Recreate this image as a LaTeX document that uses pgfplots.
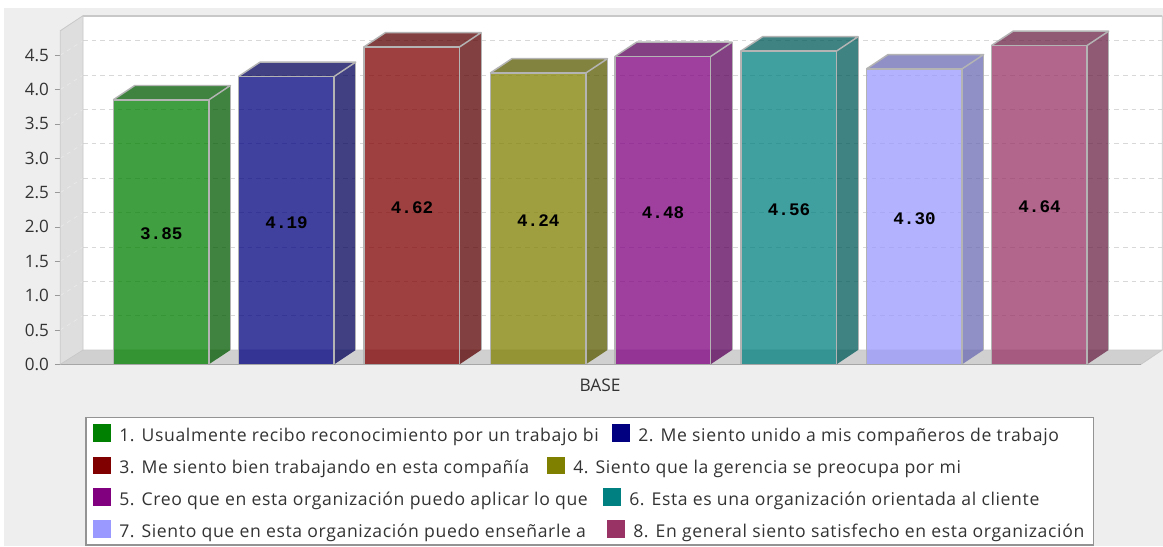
\documentclass[border=0pt]{standalone}
\usepackage{pgfplots}
\usepackage{fontspec}
\pgfplotsset{compat=1.18}
\setmainfont{Open Sans}
\newfontfamily\valuefont{Liberation Mono}[BoldFont=* Bold]

\definecolor{panel}{HTML}{EEEEEE}
\definecolor{wallgray}{HTML}{DEDEDE}
\definecolor{floorgray}{HTML}{D0D0D0}
\definecolor{edgegray}{HTML}{B4B4B4}
\definecolor{framegray}{HTML}{C8C8C8}
\definecolor{gridgray}{HTML}{D8D8D8}
\definecolor{inkgray}{HTML}{333333}
\definecolor{cA}{HTML}{008000}\definecolor{sA}{HTML}{005A00}
\definecolor{cB}{HTML}{000080}\definecolor{sB}{HTML}{00005A}
\definecolor{cC}{HTML}{800000}\definecolor{sC}{HTML}{5A0000}
\definecolor{cD}{HTML}{808000}\definecolor{sD}{HTML}{5A5A00}
\definecolor{cE}{HTML}{800080}\definecolor{sE}{HTML}{5A005A}
\definecolor{cF}{HTML}{008080}\definecolor{sF}{HTML}{005A5A}
\definecolor{cG}{HTML}{9999FF}\definecolor{sG}{HTML}{6B6BB3}
\definecolor{cH}{HTML}{993366}\definecolor{sH}{HTML}{6B2447}

% depth of the 3D extrusion: 21.5 units across, 0.208 up the value scale
\newcommand{\solidbar}[4]{%
  % #1 left edge, #2 value, #3 front colour, #4 shaded colour
  \addplot[draw=none,fill=#3,fill opacity=0.75] coordinates
    {(#1,0) (#1+95.6,0) (#1+95.6,#2) (#1,#2)} -- cycle;
  \addplot[draw=none,fill=#4,fill opacity=0.75] coordinates
    {(#1+95.6,0) (#1+117.1,0.208) (#1+117.1,#2+0.208) (#1+95.6,#2)} -- cycle;
  \addplot[draw=none,fill=#4,fill opacity=0.75] coordinates
    {(#1,#2) (#1+95.6,#2) (#1+117.1,#2+0.208) (#1+21.5,#2+0.208)} -- cycle;
  \addplot[draw=edgegray,line width=1.1pt,line join=round] coordinates
    {(#1,0) (#1,#2) (#1+95.6,#2) (#1+95.6,0)};
  \addplot[draw=edgegray,line width=1.1pt,line join=round] coordinates
    {(#1,#2) (#1+21.5,#2+0.208) (#1+117.1,#2+0.208) (#1+95.6,#2)};
  \addplot[draw=edgegray,line width=0.5pt] coordinates
    {(#1+117.1,#2+0.208) (#1+117.1,0.208)};
  \node[font=\valuefont\bfseries\fontsize{13.2}{13}\selectfont,text=black,
        yshift=-1.5pt,inner sep=0pt] at (axis cs:#1+48,#2/2) {#2};
}
\newcommand{\gridlevel}[1]{%
  \addplot[draw=gridgray!55,dashed,line width=0.5pt] coordinates
    {(60.3,#1) (83,#1+0.208)};
  \addplot[draw=gridgray,dash pattern=on 3.5pt off 3pt,line width=0.6pt] coordinates
    {(83,#1+0.208) (1162.3,#1+0.208)};
}
\newcommand{\legendrow}[4]{%
  % #1 swatch left, #2 row centre, #3 colour, #4 text
  \fill[#3] (#1,#2-8.8) rectangle ++(17.6,17.6);
  \node[anchor=base west,inner sep=0pt,text=inkgray,
        font=\fontsize{13.2}{16}\selectfont\addfontfeature{LetterSpace=3.6}] at (#1+26,#2+8.4) {#4};
}

\begin{document}
\begin{tikzpicture}
  % page background and grey panel
  \path[use as bounding box,fill=white] (0,0) rectangle (872.25pt,409.5pt);
  \fill[panel] (3pt,0) rectangle (872.25pt,403.5pt);

  \begin{axis}[
    at={(45.225pt,136.275pt)},anchor=south west,
    scale only axis,width=826.5pt,height=261.45pt,
    xmin=60.3,xmax=1162.3,ymin=0,ymax=5.074,
    clip=false,
    axis line style={draw=none},
    xtick=\empty,
    ytick pos=left,
    ytick={0,0.5,1,1.5,2,2.5,3,3.5,4,4.5},
    yticklabel style={/pgf/number format/fixed,/pgf/number format/fixed zerofill,
      /pgf/number format/precision=1,/pgf/number format/assume math mode=true,
      font=\fontsize{12.8}{14}\selectfont,text=inkgray,xshift=-1pt},
    tick align=outside,
    major tick length=4pt,
    ytick style={draw=gray!80,line width=0.5pt},
    xlabel={BASE},
    xlabel style={font=\fontsize{13}{14}\selectfont,text=inkgray,at={(axis cs:600,0)},
      anchor=center,yshift=-15.5pt},
    cycle list={{black}},
  ]
    % back wall, left wall and floor
    \addplot[draw=none,fill=white] coordinates
      {(83,0.208) (1162.3,0.208) (1162.3,5.074) (83,5.074)} -- cycle;
    \addplot[draw=none,fill=wallgray] coordinates
      {(60.3,0) (83,0.208) (83,5.074) (60.3,4.855)} -- cycle;
    \addplot[draw=none,fill=floorgray] coordinates
      {(60.3,0) (1141,0) (1162.3,0.208) (83,0.208)} -- cycle;

    \gridlevel{0.5}\gridlevel{1.0}\gridlevel{1.5}\gridlevel{2.0}\gridlevel{2.5}
    \gridlevel{3.0}\gridlevel{3.5}\gridlevel{4.0}\gridlevel{4.5}

    % wall outlines
    \addplot[draw=framegray,line width=0.6pt] coordinates
      {(60.3,0) (60.3,4.855) (83,5.074) (83,0.208)};
    \addplot[draw=framegray,line width=1.5pt] coordinates {(83,5.074) (1162.3,5.074)};
    \addplot[draw=framegray,line width=0.6pt] coordinates
      {(1162.3,5.074) (1162.3,0.208) (1141,0)};
    \addplot[draw=gray!70,line width=0.6pt] coordinates {(60.3,0) (1141,0)};
    \addplot[draw=framegray,line width=0.5pt] coordinates {(60.3,0) (83,0.208) (1162.3,0.208)};

    \solidbar{113.3}{3.85}{cA}{sA}
    \solidbar{238.6}{4.19}{cB}{sB}
    \solidbar{364}{4.62}{cC}{sC}
    \solidbar{490.3}{4.24}{cD}{sD}
    \solidbar{615}{4.48}{cE}{sE}
    \solidbar{741}{4.56}{cF}{sF}
    \solidbar{866.5}{4.30}{cG}{sG}
    \solidbar{991.5}{4.64}{cH}{sH}
  \end{axis}

  % legend, laid out row by row in a flowing arrangement
  \begin{scope}[shift={(0pt,409.5pt)},x=0.75pt,y=-0.75pt]
    \filldraw[fill=white,draw=gray!85,line width=0.8pt] (86,417.5) rectangle (1093.5,545);
    \legendrow{93}{433}{cA}{1. Usualmente recibo reconocimiento por un trabajo bi}
    \legendrow{612}{433}{cB}{2. Me siento unido a mis compañeros de trabajo}
    \legendrow{93}{465.5}{cC}{3. Me siento bien trabajando en esta compañía}
    \legendrow{547}{465.5}{cD}{4. Siento que la gerencia se preocupa por mi}
    \legendrow{93}{497}{cE}{5. Creo que en esta organización puedo aplicar lo que}
    \legendrow{603}{497}{cF}{6. Esta es una organización orientada al cliente}
    \legendrow{93}{529}{cG}{7. Siento que en esta organización puedo enseñarle a}
    \legendrow{607}{529}{cH}{8. En general siento satisfecho en esta organización}
  \end{scope}
\end{tikzpicture}
\end{document}
